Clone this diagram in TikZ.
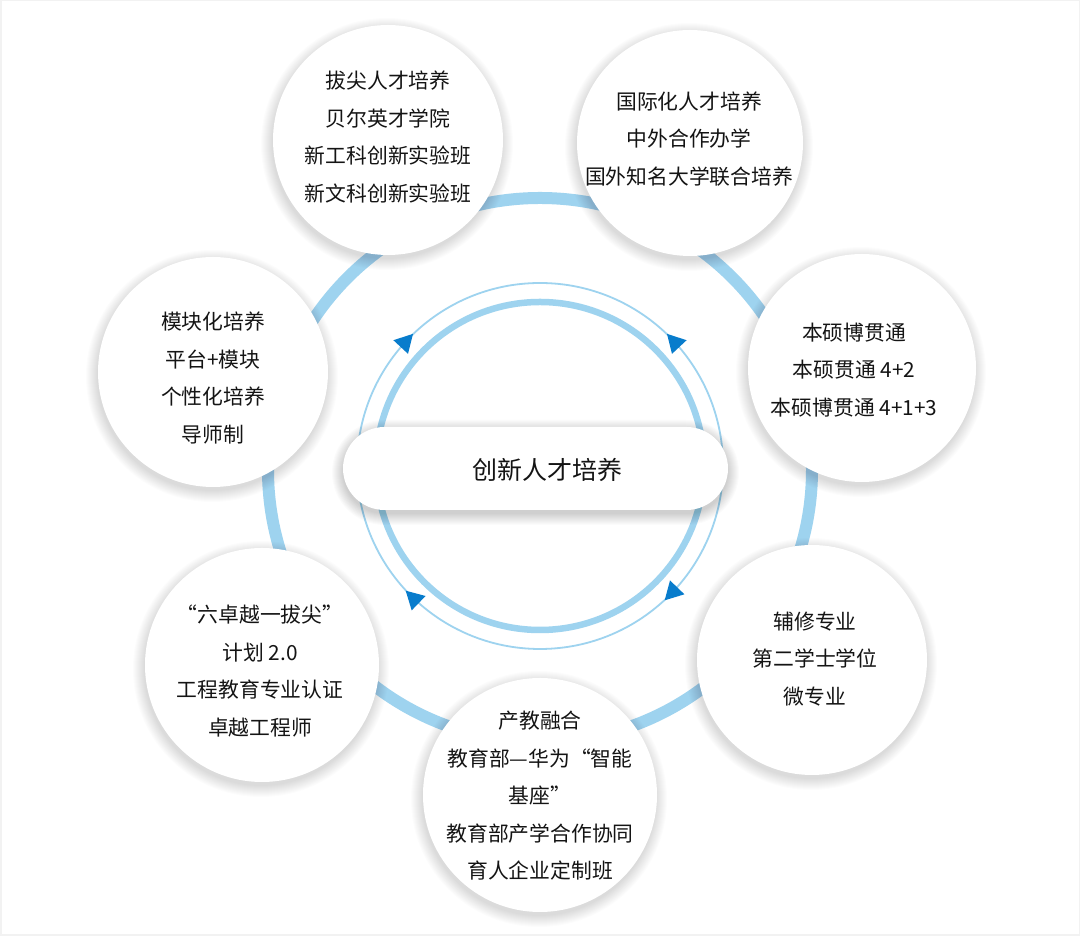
\documentclass[tikz,border=0pt]{standalone}
\usepackage{fontspec}
\setmainfont{Noto Sans CJK SC}
\usetikzlibrary{shapes.misc}
\definecolor{ringblue}{RGB}{158,211,239}
\definecolor{arrowblue}{RGB}{8,124,204}
\definecolor{txtcol}{RGB}{20,20,20}
\newcommand\bubshadow[3]{%
  \foreach \k in {0,...,11}{\fill[black,opacity=0.012] (#1-1,#2-4) circle[radius={#3+11-\k}];}}
\tikzset{
  bubble/.style={circle, fill=white, inner sep=0pt},
  bubtext/.style={align=center, text=txtcol, font=\fontsize{20.8}{37.5}\selectfont},
  ringline/.style={draw=ringblue},
  arrowtri/.style={fill=arrowblue}
}
\begin{document}
\begin{tikzpicture}[x=1pt,y=1pt]
\useasboundingbox (0,0) rectangle (1080,936);
\fill[white] (0,0) rectangle (1080,936);
\draw[black!5, line width=3pt] (0,0) rectangle (1080,936);

% outer ring
\draw[ringline, line width=12pt] (540,466) circle[radius=272];
% inner rings
\draw[ringline, line width=1.8pt] (540,470) circle[radius=183];
\draw[ringline, line width=6.5pt] (540,470) circle[radius=164];

% arrowheads on the thin circle
\begin{scope}[shift={(540,470)}]
  \foreach \ang/\rot in {137/-90, 43/90, 226/-90, 316/-90}{
    \begin{scope}[shift={(\ang:183)}, rotate={\ang+\rot}]
      \fill[arrowtri] (10,0) -- (-8,10) -- (-8,-10) -- cycle;
    \end{scope}}
\end{scope}

% central pill shadow
\foreach \k in {0,...,11}{
  \pgfmathsetmacro\e{11-\k}
  \fill[black,opacity=0.014]
    (384.5,{426-\e-4}) -- (686.5,{426-\e-4})
    arc[start angle=-90, end angle=90, radius={41.5+\e}]
    -- (384.5,{509+\e-4})
    arc[start angle=90, end angle=270, radius={41.5+\e}] -- cycle;
}
\node[rounded rectangle, fill=white, minimum width=385pt, minimum height=83pt, inner sep=0pt] (core) at (535.5,467.5) {};
\node[text=txtcol, font=\fontsize{25}{30}\selectfont] (coretext) at (547,466) {创新人才培养};

% bubble shadows
\bubshadow{388}{796}{115}
\bubshadow{690}{793}{113}
\bubshadow{862}{568}{114}
\bubshadow{812}{276}{115}
\bubshadow{540}{141}{117}
\bubshadow{262}{271}{117}
\bubshadow{213}{564}{115}

% bubbles
\node[bubble, minimum size=230pt] (c1) at (388,796) {};
\node[bubble, minimum size=226pt] (c2) at (690,793) {};
\node[bubble, minimum size=228pt] (c3) at (862,568) {};
\node[bubble, minimum size=230pt] (c4) at (812,276) {};
\node[bubble, minimum size=234pt] (c5) at (540,141) {};
\node[bubble, minimum size=234pt] (c6) at (262,271) {};
\node[bubble, minimum size=230pt] (c7) at (213,564) {};

% texts
\node[bubtext] (t1) at (388,799) {拔尖人才培养\\贝尔英才学院\\新工科创新实验班\\新文科创新实验班};
\node[bubtext] (t2) at (689,797) {国际化人才培养\\中外合作办学\\国外知名大学联合培养};
\node[bubtext] (t3) at (854,566) {本硕博贯通\\本硕贯通 4+2\\本硕博贯通 4+1+3};
\node[bubtext] (t4) at (815,277) {辅修专业\\第二学士学位\\微专业};
\node[bubtext] (t5) at (540,140) {产教融合\\教育部—华为“智能\\基座”\\教育部产学合作协同\\育人企业定制班};
\node[bubtext] (t6) at (260,265) {“六卓越一拔尖”\\计划 2.0\\工程教育专业认证\\卓越工程师};
\node[bubtext] (t7) at (213,558) {模块化培养\\平台+模块\\个性化培养\\导师制};
\end{tikzpicture}
\end{document}
